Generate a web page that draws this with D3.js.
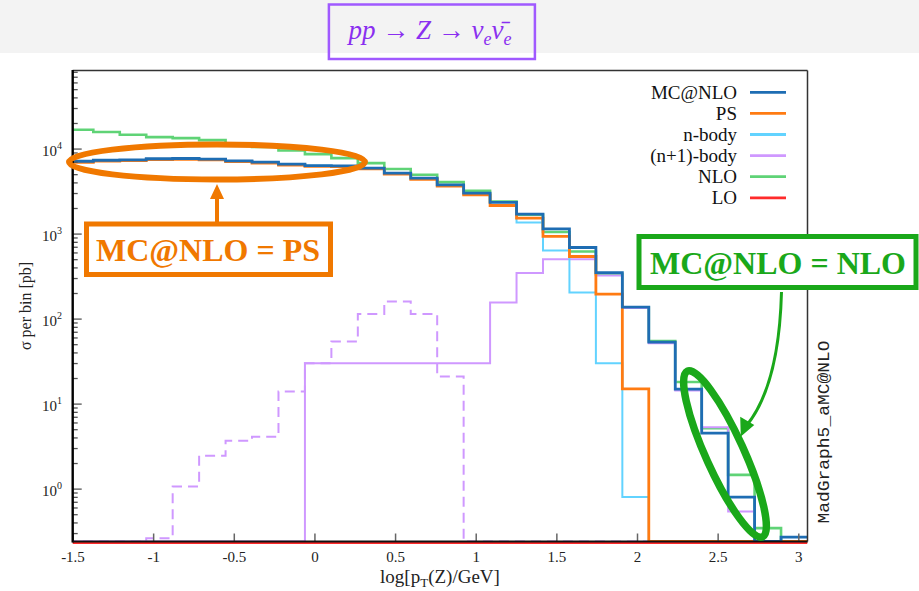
<!DOCTYPE html>
<html><head><meta charset="utf-8">
<script src="https://cdn.jsdelivr.net/npm/d3@7"></script>
<style>body{margin:0;background:#fff}svg{display:block}</style>
</head><body>
<svg id="c" width="919" height="591"></svg>
<script>
// ---- data ----
const binEdges = [-1.538, -1.374, -1.210, -1.046, -0.882, -0.718, -0.554, -0.390, -0.226, -0.062,
  0.102, 0.266, 0.430, 0.594, 0.758, 0.922, 1.086, 1.250, 1.414, 1.578, 1.742, 1.906, 2.070,
  2.234, 2.398, 2.562, 2.726, 2.890, 3.054];
const mcnlo = [7190, 7390, 7480, 7690, 7750, 7630, 7280, 7030, 6670, 6380, 6330, 5980, 5220, 4560,
  3800, 3030, 2360, 1720, 1150, 695, 353, 138, 53.6, 15.0, 4.56, 0.805, 0, 0.272];
const ps = [7000, 7200, 7300, 7500, 7550, 7450, 7100, 6850, 6500, 6250, 6200, 5850, 5080, 4400,
  3680, 2900, 2170, 1540, 940, 545, 197, 15.1, 0, 0, 0, 0, 0, 0];
const nbody = [7150, 7350, 7450, 7650, 7700, 7600, 7250, 7000, 6650, 6350, 6300, 5900, 5100, 4480,
  3750, 2980, 2180, 1370, 641, 206, 30.3, 0.81, 0, 0, 0, 0, 0, 0];
const nplus1 = [0, 0, 0, 0, 0, 0, 0, 0, 0, 30.3, 30.3, 30.3, 30.3, 30.3, 30.3, 30.3, 157, 348, 505,
  505, 325, 135, 52, 14.5, 5.36, 0.545, 0, 0];
const nplus1Neg = [0, 0, 0, 0.265, 1.07, 2.47, 3.70, 4.12, 14.1, 30.3, 54.5, 115, 161, 115, 21.1,
  0, 0, 0, 0, 0, 0, 0, 0, 0, 0, 0, 0, 0];
const nlo = [16900, 15850, 14720, 13830, 13460, 12760, 11700, 10600, 9630, 8730, 7830, 6840, 5820,
  4990, 4090, 3230, 2420, 1690, 1060, 624, 338, 136, 55, 18.2, 5.2, 1.47, 0.348, 0];
const lo = [0, 0, 0, 0, 0, 0, 0, 0, 0, 0, 0, 0, 0, 0, 0, 0, 0, 0, 0, 0, 0, 0, 0, 0, 0, 0, 0, 0];
const xTicks = [-1.5, -1, -0.5, 0, 0.5, 1, 1.5, 2, 2.5, 3];
const xTickLabels = ["-1.5", "-1", "-0.5", "0", "0.5", "1", "1.5", "2", "2.5", "3"];
const yMajorExps = [0, 1, 2, 3, 4];
const legendLabels = ["MC@NLO", "PS", "n-body", "(n+1)-body", "NLO", "LO"];

// ---- styles ----
const colors = {mcnlo: "#1e6db3", ps: "#ff7b12", nbody: "#62d3ff", nplus1: "#cf98ff", nlo: "#5fd376", lo: "#ff2b2b"};
const serif = "'Liberation Serif', 'Times New Roman', serif";

const svg = d3.select("#c");
const L = 72.7, R = 807.5, T = 70.5, B = 541.5;
const x = d3.scaleLinear().domain([-1.5, 3.054]).range([73, 807.5]);
const yMin = 0.242, yMax = 84000;
const y = d3.scaleLog().domain([yMin, yMax]).range([B, T]).clamp(true);

// title strip
svg.append("rect").attr("x", 0).attr("y", 0).attr("width", 919).attr("height", 53).attr("fill", "#f3f3f3");
svg.append("rect").attr("x", 328.9).attr("y", 4.5).attr("width", 206).attr("height", 54.5)
  .attr("fill", "none").attr("stroke", "#a059ff").attr("stroke-width", 2.5);
const tt = svg.append("text").attr("x", 430).attr("y", 39).attr("text-anchor", "middle")
  .attr("font-family", serif).attr("font-size", 27).attr("fill", "#8a2ff0");
tt.append("tspan").attr("font-style", "italic").text("pp");
tt.append("tspan").text(" \u2192 ");
tt.append("tspan").attr("font-style", "italic").text("Z");
tt.append("tspan").text(" \u2192 ");
tt.append("tspan").attr("font-style", "italic").text("\u03bd");
tt.append("tspan").attr("font-style", "italic").attr("font-size", 18).attr("dy", 6).text("e");
tt.append("tspan").attr("font-style", "italic").attr("dy", -6).text("\u03bd\u0304");
tt.append("tspan").attr("font-style", "italic").attr("font-size", 18).attr("dy", 6).text("e");

// clip
svg.append("clipPath").attr("id", "clip").append("rect")
  .attr("x", L).attr("y", T).attr("width", R - L).attr("height", B - T + 4);

const plot = svg.append("g").attr("clip-path", "url(#clip)");
const line = d3.line().x(d => x(d[0])).y(d => y(Math.max(d[1], yMin))).curve(d3.curveStepAfter);
function pts(vals) { return binEdges.map((e, i) => [e, vals[Math.min(i, vals.length - 1)]]); }
function draw(vals, color, w, dash, dy) {
  const p = plot.append("path").attr("d", line(pts(vals))).attr("fill", "none")
    .attr("stroke", color).attr("stroke-width", w).attr("stroke-linejoin", "miter");
  if (dash) p.attr("stroke-dasharray", dash);
  if (dy) p.attr("transform", `translate(0,${dy})`);
}
draw(nlo, colors.nlo, 2.6);
draw(nplus1Neg, colors.nplus1, 2, "10,6");
draw(nplus1, colors.nplus1, 2);
draw(nbody, colors.nbody, 2);
draw(ps, colors.ps, 2.8);
draw(mcnlo, colors.mcnlo, 2.8);
draw(lo, colors.lo, 2, null, 1.5);

// axes: ticks
const g = svg.append("g");
xTicks.forEach((t, i) => {
  g.append("line").attr("x1", x(t)).attr("x2", x(t)).attr("y1", B).attr("y2", B - 8)
    .attr("stroke", "#666").attr("stroke-width", 1.5);
  g.append("text").attr("x", x(t)).attr("y", 562).attr("text-anchor", "middle")
    .attr("font-family", serif).attr("font-size", 15).attr("fill", "#222").text(xTickLabels[i]);
});
for (let e = -1; e <= 4; e++) {
  for (let m = 1; m <= 9; m++) {
    const v = m * Math.pow(10, e);
    if (v < yMin || v > yMax) continue;
    const major = m === 1;
    g.append("line").attr("x1", L).attr("x2", L + (major ? 9 : 5)).attr("y1", y(v)).attr("y2", y(v))
      .attr("stroke", "#555").attr("stroke-width", 1.3);
  }
}
yMajorExps.forEach(e => {
  const t = g.append("text").attr("x", 62).attr("y", y(Math.pow(10, e)) + 7).attr("text-anchor", "end")
    .attr("font-family", serif).attr("font-size", 15).attr("fill", "#222");
  t.append("tspan").text("10");
  t.append("tspan").attr("font-size", 10).attr("dy", -7).text(String(e));
});
// frame
g.append("line").attr("x1", L).attr("x2", R).attr("y1", T).attr("y2", T).attr("stroke", "#333").attr("stroke-width", 1.5);
g.append("line").attr("x1", R).attr("x2", R).attr("y1", T).attr("y2", B).attr("stroke", "#333").attr("stroke-width", 1.5);
g.append("line").attr("x1", L).attr("x2", L).attr("y1", T - 0.5).attr("y2", B + 1).attr("stroke", "#000").attr("stroke-width", 2.4);
g.append("line").attr("x1", L).attr("x2", R).attr("y1", B).attr("y2", B).attr("stroke", "#111").attr("stroke-width", 2);

// axis labels
svg.append("text").attr("transform", "translate(31,306) rotate(-90)").attr("text-anchor", "middle")
  .attr("font-family", serif).attr("font-size", 16).attr("fill", "#222").text("\u03c3 per bin [pb]");
const xl = svg.append("text").attr("x", 440).attr("y", 583).attr("text-anchor", "middle")
  .attr("font-family", serif).attr("font-size", 19).attr("fill", "#222");
xl.append("tspan").text("log[p");
xl.append("tspan").attr("font-size", 13).attr("dy", 4).text("T");
xl.append("tspan").attr("dy", -4).text("(Z)/GeV]");
svg.append("text").attr("transform", "translate(829,432) rotate(-90)").attr("text-anchor", "middle")
  .attr("font-family", "'Liberation Mono', 'DejaVu Sans Mono', monospace").attr("font-size", 17)
  .attr("textLength", 183).attr("lengthAdjust", "spacingAndGlyphs").attr("fill", "#222").text("MadGraph5_aMC@NLO");

// legend
const legColors = [colors.mcnlo, colors.ps, colors.nbody, colors.nplus1, colors.nlo, colors.lo];
legendLabels.forEach((lab, i) => {
  const ly = 92.3 + i * 21.1;
  svg.append("text").attr("x", 737).attr("y", ly + 6.5).attr("text-anchor", "end")
    .attr("font-family", serif).attr("font-size", 19).attr("fill", "#111").text(lab);
  svg.append("line").attr("x1", 750).attr("x2", 786).attr("y1", ly).attr("y2", ly)
    .attr("stroke", legColors[i]).attr("stroke-width", 2.8);
});

// annotations
const orange = "#f07800", green = "#1aa81a";
svg.append("ellipse").attr("cx", 217).attr("cy", 162).attr("rx", 148).attr("ry", 17.5)
  .attr("fill", "none").attr("stroke", orange).attr("stroke-width", 6);
svg.append("line").attr("x1", 217).attr("x2", 217).attr("y1", 222).attr("y2", 196)
  .attr("stroke", orange).attr("stroke-width", 4);
svg.append("path").attr("d", "M217,184 L210,199 L224,199 Z").attr("fill", orange);
svg.append("rect").attr("x", 86.5).attr("y", 224).attr("width", 244).attr("height", 50.5)
  .attr("fill", "#fff").attr("stroke", orange).attr("stroke-width", 5);
svg.append("text").attr("x", 208).attr("y", 261).attr("text-anchor", "middle")
  .attr("font-family", serif).attr("font-weight", "bold").attr("font-size", 32).attr("fill", orange).text("MC@NLO = PS");

svg.append("ellipse").attr("cx", 725).attr("cy", 454).attr("rx", 91).attr("ry", 19)
  .attr("transform", "rotate(65.6,725,454)")
  .attr("fill", "none").attr("stroke", green).attr("stroke-width", 7.5);
svg.append("path").attr("d", "M781.5,292 Q779,385 747,425").attr("fill", "none")
  .attr("stroke", green).attr("stroke-width", 3);
svg.append("path").attr("d", "M741.5,435 L741,418 L753,425 Z").attr("fill", green).attr("stroke", green).attr("stroke-width", 1.5);
svg.append("rect").attr("x", 639).attr("y", 236.5).attr("width", 277).attr("height", 51)
  .attr("fill", "#fff").attr("stroke", green).attr("stroke-width", 5);
svg.append("text").attr("x", 778).attr("y", 273.5).attr("text-anchor", "middle")
  .attr("font-family", serif).attr("font-weight", "bold").attr("font-size", 32).attr("fill", green).text("MC@NLO = NLO");
</script>
</body></html>
